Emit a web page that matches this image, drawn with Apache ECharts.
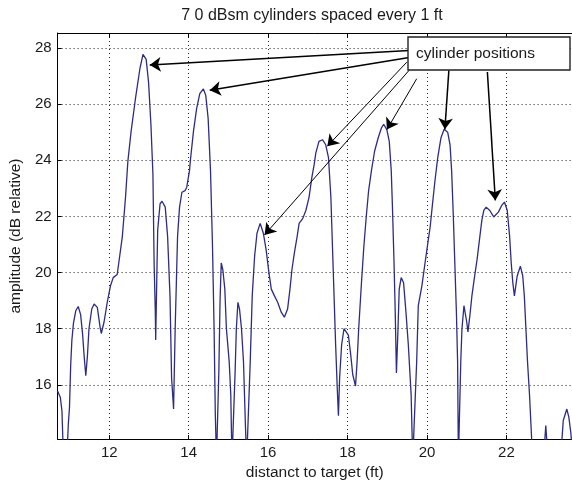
<!DOCTYPE html>
<html><head><meta charset="utf-8">
<script src="https://cdn.jsdelivr.net/npm/echarts@6/dist/echarts.min.js"></script>
<style>html,body{margin:0;padding:0;background:#fff}#c{width:572px;height:486px}</style>
</head><body><div id="c"></div>
<script>
// distance to target (ft)
const distance = [
10.70,10.77,10.81,10.85,10.93,10.97,11.00,11.03,11.06,11.10,11.16,11.22,11.28,11.33,11.37,11.41,11.45,11.49,11.56,11.62,
11.70,11.77,11.80,11.87,11.95,12.03,12.10,12.20,12.24,12.33,12.41,12.47,12.55,12.66,12.77,12.85,12.93,12.99,13.05,13.10,
13.13,13.16,13.17,13.20,13.22,13.28,13.33,13.41,13.47,13.53,13.57,13.62,13.66,13.72,13.77,13.83,13.91,13.95,14.02,14.05,
14.12,14.20,14.28,14.37,14.43,14.49,14.55,14.60,14.64,14.67,14.70,14.74,14.76,14.79,14.82,14.86,14.91,14.95,15.02,15.06,
15.09,15.13,15.17,15.20,15.24,15.28,15.33,15.38,15.43,15.46,15.50,15.55,15.60,15.66,15.72,15.80,15.88,15.95,16.02,16.08,
16.16,16.24,16.33,16.41,16.49,16.55,16.60,16.66,16.73,16.78,16.87,16.95,17.03,17.10,17.16,17.20,17.28,17.37,17.45,17.52,
17.58,17.62,17.66,17.70,17.74,17.77,17.80,17.85,17.91,17.95,18.02,18.08,18.13,18.20,18.24,18.28,18.35,18.41,18.47,18.53,
18.60,18.68,18.77,18.85,18.91,18.99,19.05,19.10,19.13,19.17,19.20,19.23,19.27,19.30,19.35,19.41,19.47,19.53,19.60,19.64,
19.69,19.74,19.78,19.87,19.95,20.02,20.08,20.13,20.20,20.27,20.35,20.43,20.47,20.52,20.58,20.62,20.66,20.70,20.74,20.77,
20.79,20.82,20.85,20.88,20.93,21.00,21.03,21.08,21.13,21.20,21.26,21.33,21.38,21.43,21.49,21.58,21.68,21.72,21.80,21.88,
21.95,22.02,22.08,22.12,22.16,22.20,22.27,22.35,22.41,22.45,22.49,22.53,22.58,22.63,22.66,22.93,22.99,23.05,23.36,23.43,
23.52,23.57,23.62,23.65
];
// amplitude (dB relative)
const amplitude = [
15.78,15.55,15.07,13.3,13.3,14.6,15.2,16.7,17.6,18.2,18.65,18.79,18.5,17.8,17.0,16.33,17.0,18.0,18.7,18.88,
18.76,18.06,17.83,18.24,18.94,19.52,19.82,19.93,20.34,21.28,22.68,23.97,25.02,26.19,27.24,27.77,27.59,26.78,25.26,23.5,
20.34,18.59,17.6,20.0,21.51,22.45,22.54,22.33,21.28,19.17,16.25,15.14,18.0,21.28,22.33,22.86,22.92,23.03,23.62,24.09,
25.02,25.84,26.37,26.54,26.31,25.49,23.62,20.93,18.0,15.0,13.3,13.3,16.5,19.0,20.34,20.1,19.41,18.0,16.83,15.66,
13.3,13.3,16.5,18.0,18.94,18.7,18.0,16.83,14.5,13.3,13.3,16.83,19.17,20.58,21.40,21.75,21.40,20.81,20.00,19.41,
19.17,18.94,18.59,18.41,18.70,19.41,20.11,20.69,21.28,21.75,21.92,22.21,22.68,23.38,23.85,24.25,24.67,24.73,24.55,24.09,
22.68,20.93,19.17,17.42,15.90,14.90,16.25,17.42,18.00,18.03,17.77,17.07,16.37,15.96,16.83,18.00,19.64,20.93,21.98,22.92,
23.62,24.32,24.79,25.14,25.28,25.08,24.67,23.62,22.33,20.34,18.59,16.42,18.00,19.41,19.82,19.64,18.59,17.42,15.66,13.3,
13.3,16.83,18.82,19.52,20.34,21.04,21.63,22.33,23.27,24.09,24.79,25.10,25.05,25.00,24.55,23.62,22.10,20.34,18.59,16.83,
13.3,13.3,16.83,18.00,18.82,18.24,17.89,18.47,19.17,19.88,20.46,21.28,21.86,22.21,22.33,22.21,21.98,21.95,22.16,22.39,
22.51,22.21,21.28,20.34,19.64,19.17,19.88,20.23,19.88,19.17,18.00,16.83,15.66,14.2,13.3,13.3,14.55,13.3,13.3,14.73,
15.14,14.85,14.3,13.8
];
// annotation arrows (data units)
const arrowStartX = [19.55, 19.55, 19.49, 19.58, 19.74, 20.55, 21.52];
const arrowStartY = [27.91, 27.66, 27.49, 27.25, 26.90, 27.20, 27.14];
const arrowTipX   = [13.02, 14.53, 17.49, 15.91, 18.99, 20.45, 21.72];
const arrowTipY   = [27.39, 26.49, 24.50, 21.34, 25.09, 25.10, 22.57];
const arrowWidth  = [1.5, 1.5, 1, 1, 1, 1.5, 1.5];

const titleText = '7 0 dBsm cylinders spaced every 1 ft';
const xName = 'distanct to target (ft)';
const yName = 'amplitude (dB relative)';
const legendText = 'cylinder positions';

const FONT = 'Arial, "Liberation Sans", sans-serif';
const points = distance.map((d, i) => [d, amplitude[i]]);
const arrows = arrowStartX.map((sx, i) => [
  {coord: [sx, arrowStartY[i]], lineStyle: {width: arrowWidth[i], color: '#000', type: 'solid'}},
  {coord: [arrowTipX[i], arrowTipY[i]]}
]);

const chart = echarts.init(document.getElementById('c'), null, {renderer: 'canvas'});
const grid = {left: 54, right: 0, top: 33, bottom: 41, containLabel: false};
const gridLine = {show: true, lineStyle: {type: [1, 3], color: '#222', width: 1}};
chart.setOption({
  animation: false,
  backgroundColor: '#fff',
  textStyle: {fontFamily: FONT},
  grid: grid,
  xAxis: [{
    type: 'value', min: 10.7, max: 23.65, splitNumber: 6, position: 'bottom',
    axisLine: {show: true, lineStyle: {color: '#000', width: 1}},
    axisTick: {show: true, inside: true, length: 4, lineStyle: {color: '#000'}},
    axisLabel: {color: '#1a1a1a', fontSize: 15, fontFamily: FONT, margin: 6, showMinLabel: false, showMaxLabel: false},
    splitLine: gridLine,
    name: xName, nameLocation: 'middle', nameGap: 19,
    nameTextStyle: {color: '#1a1a1a', fontSize: 15.5, fontFamily: FONT}
  }, {
    type: 'value', min: 10.7, max: 23.65, splitNumber: 6, position: 'top',
    axisLine: {show: true, lineStyle: {color: '#000', width: 1}},
    axisTick: {show: true, inside: true, length: 4, lineStyle: {color: '#000'}},
    axisLabel: {show: false}, splitLine: {show: false}
  }],
  yAxis: [{
    type: 'value', min: 14.07, max: 28.53, splitNumber: 7, position: 'left',
    axisLine: {show: true, lineStyle: {color: '#000', width: 1}},
    axisTick: {show: true, inside: true, length: 4, lineStyle: {color: '#000'}},
    axisLabel: {color: '#1a1a1a', fontSize: 15, fontFamily: FONT, margin: 6, showMinLabel: false, showMaxLabel: false},
    splitLine: gridLine,
    name: yName, nameLocation: 'middle', nameGap: 31, nameRotate: 90,
    nameTextStyle: {color: '#1a1a1a', fontSize: 15.5, fontFamily: FONT}
  }],
  series: [{
    type: 'line', data: points, xAxisIndex: 0, yAxisIndex: 0,
    showSymbol: false, symbol: 'none', clip: true, silent: true,
    lineStyle: {color: '#2c2c88', width: 1.3},
    markLine: {
      silent: true, animation: false,
      symbol: ['none', 'arrow'], symbolSize: 11,
      label: {show: false},
      emphasis: {disabled: true},
      lineStyle: {color: '#000', type: 'solid', width: 1},
      data: arrows
    }
  }],
  graphic: [
    {type: 'text', x: 312, y: 16, z: 100,
     style: {text: titleText, fill: '#1a1a1a', font: '16px ' + FONT, textAlign: 'center', textVerticalAlign: 'middle'}},
    {type: 'rect', z: 100, shape: {x: 408, y: 37, width: 162, height: 33},
     style: {fill: '#fff', stroke: '#222', lineWidth: 1.4}},
    {type: 'text', x: 416, y: 54, z: 101,
     style: {text: legendText, fill: '#1a1a1a', font: '15.5px ' + FONT, textAlign: 'left', textVerticalAlign: 'middle'}}
  ]
});
</script>
</body></html>
